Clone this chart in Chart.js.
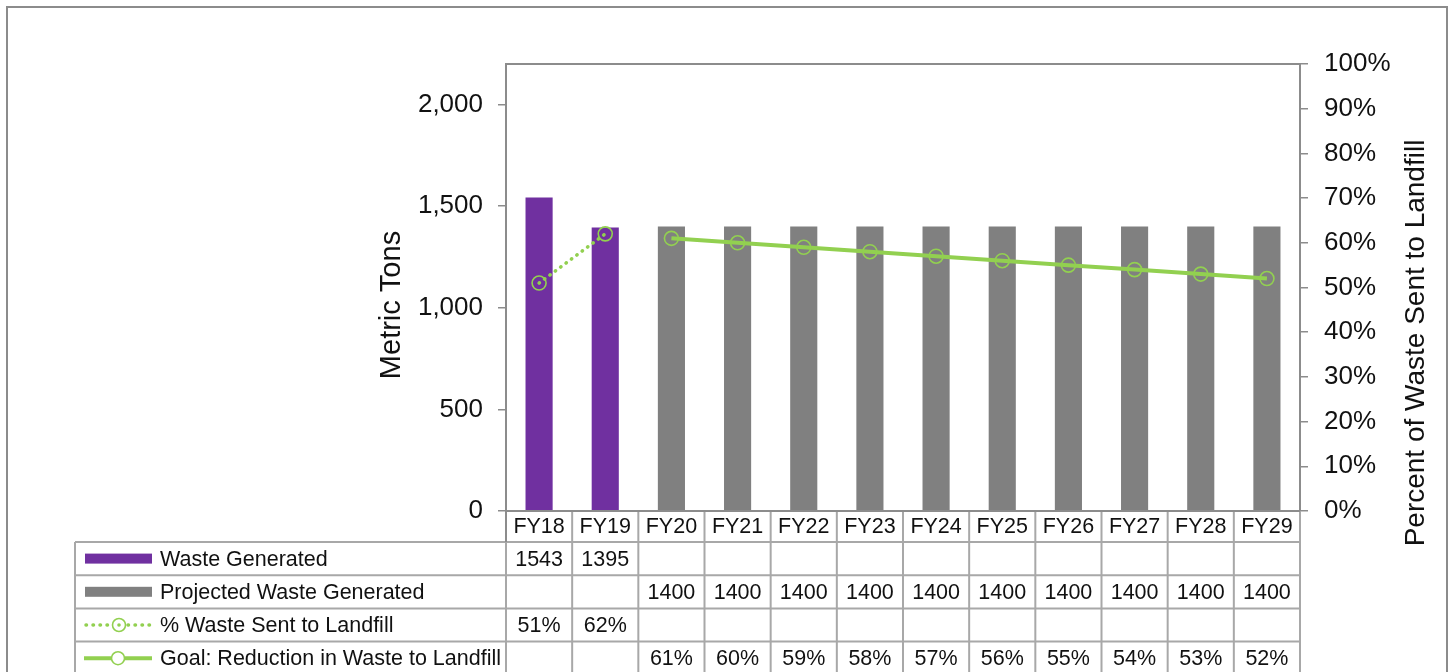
<!DOCTYPE html>
<html>
<head>
<meta charset="utf-8">
<title>Waste Generated and Waste Sent to Landfill</title>
<script src="https://cdn.jsdelivr.net/npm/chart.js@4.4.1/dist/chart.umd.min.js"></script>
<style>
  html, body { margin: 0; padding: 0; background: #ffffff; }
  #wrap { width: 1450px; height: 672px; position: relative; }
  canvas { display: block; }
</style>
</head>
<body>
<div id="wrap"><canvas id="chart" width="1450" height="672"></canvas></div>
<script>
// Fiscal years shown on the category axis and in the table header
const CATEGORIES = ['FY18', 'FY19', 'FY20', 'FY21', 'FY22', 'FY23', 'FY24', 'FY25', 'FY26', 'FY27', 'FY28', 'FY29'];

// Metric tons
const WASTE_GENERATED = [1543, 1395, null, null, null, null, null, null, null, null, null, null];
const PROJECTED_WASTE = [null, null, 1400, 1400, 1400, 1400, 1400, 1400, 1400, 1400, 1400, 1400];

// Percent of waste sent to landfill
const PCT_TO_LANDFILL = [51, 62, null, null, null, null, null, null, null, null, null, null];
const GOAL_PCT = [null, null, 61, 60, 59, 58, 57, 56, 55, 54, 53, 52];

// Axis ticks
const TONS_TICKS = [0, 500, 1000, 1500, 2000];
const PCT_TICKS = [0, 10, 20, 30, 40, 50, 60, 70, 80, 90, 100];

// Series names as they appear in the data table
const SERIES_NAMES = ['Waste Generated', 'Projected Waste Generated', '% Waste Sent to Landfill', 'Goal: Reduction in Waste to Landfill'];

const PURPLE = '#7030A0';
const GRAY_BAR = '#808080';
const GREEN = '#92D050';
const AXIS_GRAY = '#8c8c8c';
const TABLE_GRAY = '#a8a8a8';
const TEXT = '#111111';
const FONT = '"Liberation Sans", Arial, sans-serif';

const fmtTons = v => (v === null ? '' : String(v));
const fmtPct = v => (v === null ? '' : v + '%');

// Draws the outer frame, plot border, axis titles and the data table below the plot
const tablePlugin = {
  id: 'dataTable',
  afterDraw(chart) {
    const ctx = chart.ctx;
    const area = chart.chartArea;
    const xs = chart.scales.x;
    const n = CATEGORIES.length;
    const colW = (area.right - area.left) / n;
    const headH = 31;
    const rowH = 33.2;
    const tableLeft = 75;
    const labelX = 160;
    const rowTop = r => area.bottom + headH + rowH * r;

    ctx.save();

    // outer frame
    ctx.strokeStyle = AXIS_GRAY;
    ctx.lineWidth = 2;
    ctx.strokeRect(7, 7, 1440, 700);

    // table grid
    ctx.strokeStyle = TABLE_GRAY;
    ctx.lineWidth = 2;
    ctx.beginPath();
    const rows = 4;
    for (let r = 0; r <= rows; r++) {
      const y = rowTop(r);
      ctx.moveTo(tableLeft, y);
      ctx.lineTo(area.right, y);
    }
    ctx.moveTo(tableLeft, rowTop(0));
    ctx.lineTo(tableLeft, 700);
    for (let i = 1; i <= n; i++) {
      const x = area.left + colW * i;
      ctx.moveTo(x, area.bottom);
      ctx.lineTo(x, 700);
    }
    ctx.moveTo(area.left, rowTop(0));
    ctx.lineTo(area.left, 700);
    ctx.stroke();

    // plot border
    ctx.strokeStyle = AXIS_GRAY;
    ctx.lineWidth = 2;
    ctx.beginPath();
    ctx.moveTo(area.left, area.top);
    ctx.lineTo(area.right, area.top);
    ctx.moveTo(area.left, area.bottom);
    ctx.lineTo(area.right, area.bottom);
    ctx.moveTo(area.left, area.top);
    ctx.lineTo(area.left, rowTop(0));
    ctx.moveTo(area.right, area.top);
    ctx.lineTo(area.right, area.bottom);
    ctx.stroke();

    // header and values
    ctx.fillStyle = TEXT;
    ctx.font = '21.5px ' + FONT;
    ctx.textAlign = 'center';
    ctx.textBaseline = 'middle';
    const rowValues = [
      WASTE_GENERATED.map(fmtTons),
      PROJECTED_WASTE.map(fmtTons),
      PCT_TO_LANDFILL.map(fmtPct),
      GOAL_PCT.map(fmtPct)
    ];
    CATEGORIES.forEach((c, i) => {
      const cx = xs.getPixelForValue(i);
      ctx.fillText(c, cx, area.bottom + headH / 2 + 1);
      rowValues.forEach((vals, r) => {
        ctx.fillText(vals[i], cx, rowTop(r) + rowH / 2 + 1);
      });
    });

    // row labels with legend keys
    ctx.textAlign = 'left';
    SERIES_NAMES.forEach((name, r) => {
      const cy = rowTop(r) + rowH / 2;
      ctx.fillStyle = TEXT;
      ctx.fillText(name, labelX, cy + 1);
      if (r === 0 || r === 1) {
        ctx.fillStyle = r === 0 ? PURPLE : GRAY_BAR;
        ctx.fillRect(85, cy - 5, 67, 10);
      } else if (r === 2) {
        ctx.strokeStyle = GREEN;
        ctx.lineWidth = 3.5;
        ctx.lineCap = 'round';
        ctx.setLineDash([0.5, 6.5]);
        ctx.beginPath();
        ctx.moveTo(86, cy);
        ctx.lineTo(151, cy);
        ctx.stroke();
        ctx.setLineDash([]);
        ctx.lineWidth = 1.6;
        ctx.fillStyle = '#ffffff';
        ctx.beginPath();
        ctx.arc(119, cy, 6.5, 0, Math.PI * 2);
        ctx.fill();
        ctx.stroke();
        ctx.fillStyle = GREEN;
        ctx.beginPath();
        ctx.arc(119, cy, 1.8, 0, Math.PI * 2);
        ctx.fill();
      } else {
        ctx.strokeStyle = GREEN;
        ctx.lineWidth = 4;
        ctx.lineCap = 'butt';
        ctx.beginPath();
        ctx.moveTo(84, cy);
        ctx.lineTo(152, cy);
        ctx.stroke();
        ctx.lineWidth = 1.6;
        ctx.fillStyle = '#ffffff';
        ctx.beginPath();
        ctx.arc(118, cy, 6.5, 0, Math.PI * 2);
        ctx.fill();
        ctx.stroke();
      }
    });

    // axis titles
    ctx.fillStyle = TEXT;
    ctx.textAlign = 'center';
    ctx.textBaseline = 'middle';
    ctx.font = '29px ' + FONT;
    ctx.save();
    ctx.translate(392, 305);
    ctx.rotate(-Math.PI / 2);
    ctx.fillText('Metric Tons', 0, 0);
    ctx.restore();
    ctx.font = '28px ' + FONT;
    ctx.save();
    ctx.translate(1416, 343);
    ctx.rotate(-Math.PI / 2);
    ctx.fillText('Percent of Waste Sent to Landfill', 0, 0);
    ctx.restore();

    ctx.restore();
  }
};

const markerStyle = {
  pointStyle: 'circle',
  pointRadius: 7,
  pointHoverRadius: 7,
  pointBorderColor: GREEN,
  pointBackgroundColor: 'rgba(0,0,0,0)',
  pointBorderWidth: 1.6
};

new Chart(document.getElementById('chart'), {
  type: 'bar',
  data: {
    labels: CATEGORIES,
    datasets: [
      {
        label: SERIES_NAMES[0],
        data: WASTE_GENERATED,
        backgroundColor: PURPLE,
        yAxisID: 'y',
        grouped: false,
        order: 2,
        categoryPercentage: 1,
        barPercentage: 0.41
      },
      {
        label: SERIES_NAMES[1],
        data: PROJECTED_WASTE,
        backgroundColor: GRAY_BAR,
        yAxisID: 'y',
        grouped: false,
        order: 2,
        categoryPercentage: 1,
        barPercentage: 0.41
      },
      Object.assign({
        type: 'line',
        label: SERIES_NAMES[2],
        data: PCT_TO_LANDFILL,
        yAxisID: 'y1',
        borderColor: GREEN,
        borderWidth: 3.5,
        borderDash: [0.5, 6.2],
        borderCapStyle: 'round',
        tension: 0,
        order: 0
      }, markerStyle),
      Object.assign({
        type: 'line',
        label: SERIES_NAMES[3],
        data: GOAL_PCT,
        yAxisID: 'y1',
        borderColor: GREEN,
        borderWidth: 4,
        tension: 0,
        order: 0
      }, markerStyle)
    ]
  },
  options: {
    responsive: false,
    animation: false,
    events: [],
    layout: { padding: { left: 0, right: 0, top: 64, bottom: 161 } },
    plugins: {
      legend: { display: false },
      tooltip: { enabled: false }
    },
    scales: {
      x: {
        display: false,
        offset: true
      },
      y: {
        position: 'left',
        min: 0,
        max: 2200,
        afterBuildTicks: s => { s.ticks = TONS_TICKS.map(v => ({ value: v })); },
        afterFit: s => { s.width = 506; },
        border: { display: true, color: AXIS_GRAY, width: 2 },
        grid: { drawOnChartArea: false, color: AXIS_GRAY, tickLength: 8, lineWidth: 1.5 },
        ticks: {
          color: TEXT,
          padding: 15,
          font: { family: FONT, size: 26 },
          callback: v => v.toLocaleString('en-US')
        }
      },
      y1: {
        position: 'right',
        min: 0,
        max: 100,
        afterBuildTicks: s => { s.ticks = PCT_TICKS.map(v => ({ value: v })); },
        afterFit: s => { s.width = 150; },
        border: { display: true, color: AXIS_GRAY, width: 2 },
        grid: { drawOnChartArea: false, color: AXIS_GRAY, tickLength: 8, lineWidth: 1.5 },
        ticks: {
          color: TEXT,
          padding: 16,
          font: { family: FONT, size: 26 },
          callback: v => v + '%'
        }
      }
    }
  },
  plugins: [tablePlugin]
});
</script>
</body>
</html>
